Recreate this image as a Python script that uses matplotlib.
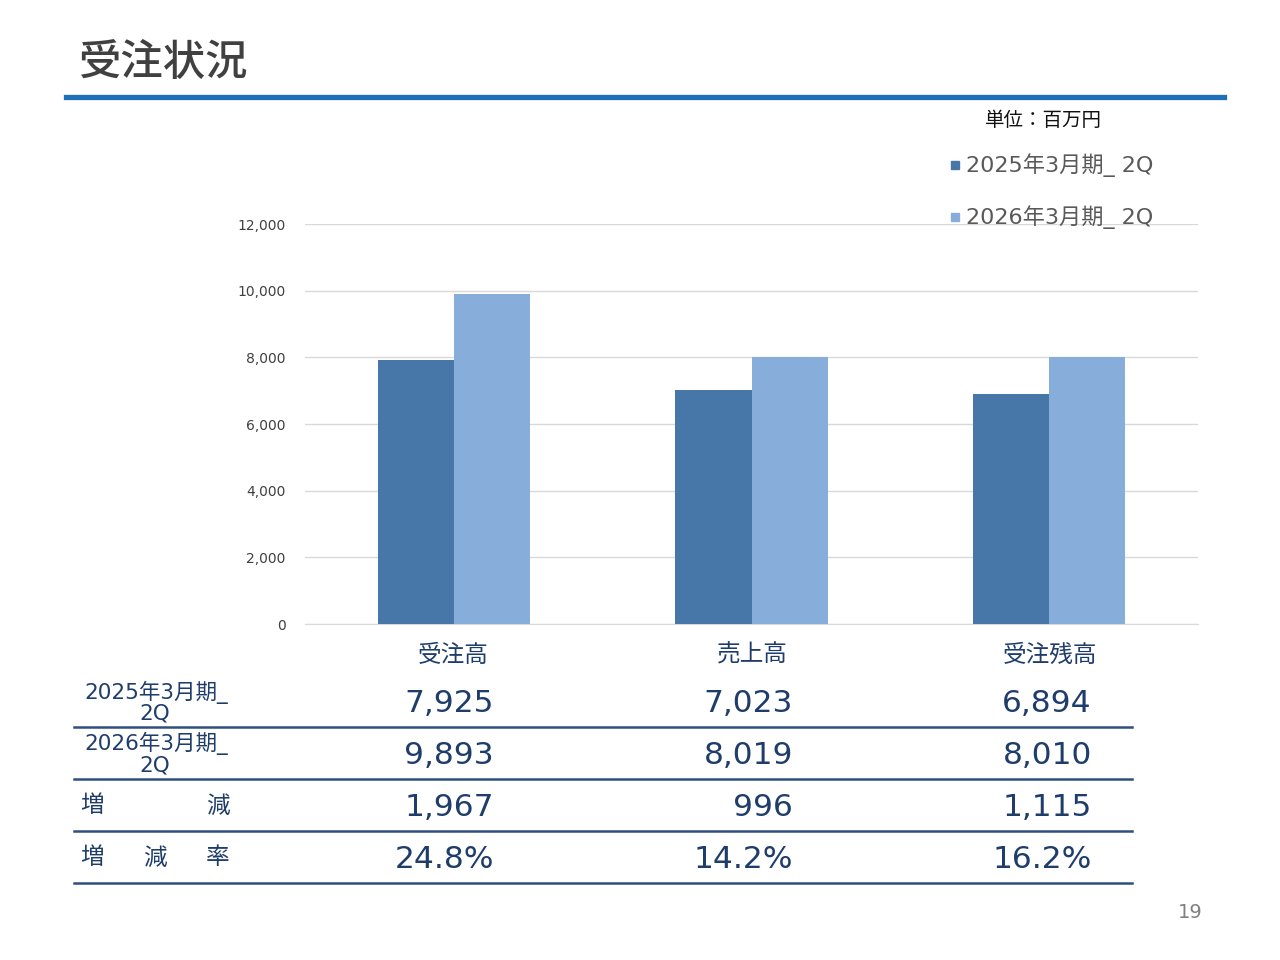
import matplotlib
matplotlib.use("Agg")
import matplotlib.pyplot as plt
from matplotlib.patches import Rectangle
from matplotlib.lines import Line2D
import numpy as np

plt.rcParams['font.family'] = ['Noto Sans CJK JP', 'DejaVu Sans']

title = "受注状況"
unit_label = "単位：百万円"
categories = ["受注高", "売上高", "受注残高"]
series_names = ["2025年3月期_ 2Q", "2026年3月期_ 2Q"]
values_2025 = [7925, 7023, 6894]
values_2026 = [9893, 8019, 8010]
diff_values = ["1,967", "996", "1,115"]
rate_values = ["24.8%", "14.2%", "16.2%"]
row_labels = ["2025年3月期_\n2Q", "2026年3月期_\n2Q"]
yticks = [0, 2000, 4000, 6000, 8000, 10000, 12000]
page_no = "19"

dark = "#4677A8"
light = "#87AEDB"
navy = "#1F3D6B"
mixed = ['DejaVu Sans', 'Noto Sans CJK JP']

W, H = 1280, 960
fig = plt.figure(figsize=(12.8, 9.6), dpi=100)
fig.patch.set_facecolor("white")

def fx(x):
    return x / W

def fy(y):
    return 1 - y / H

# Title
fig.text(fx(78), fy(62), title, fontsize=30.5, color="#404040", va="center", ha="left", fontweight="medium")
fig.add_artist(Line2D([fx(66), fx(1224)], [fy(96.5), fy(96.5)], color="#1F6FB8", lw=3.8))

# Axes
ax = fig.add_axes([fx(305), fy(624), fx(1198 - 305), (624 - 224) / H])
x = np.arange(len(categories))
bw = 0.256
ax.bar(x - bw / 2, values_2025, width=bw, color=dark, zorder=3)
ax.bar(x + bw / 2, values_2026, width=bw, color=light, zorder=3)
ax.set_xlim(-0.5, 2.5)
ax.set_ylim(0, 12000)
ax.set_yticks(yticks)
ax.set_yticklabels([f"{v:,}" for v in yticks], fontsize=10, color="#404040", family=mixed)
ax.tick_params(axis="y", length=0, pad=14)
ax.set_xticks([])
ax.grid(axis="y", color="#D9D9D9", lw=1, zorder=0)
for s in ["top", "right", "left"]:
    ax.spines[s].set_visible(False)
ax.spines["bottom"].set_color("#D9D9D9")
ax.set_facecolor("none")

# Unit and legend
fig.text(fx(985), fy(120), unit_label, fontsize=14, color="#111111", va="center", ha="left")
for i, (name, col) in enumerate(zip(series_names, [dark, light])):
    yy = 165 + 52 * i
    fig.add_artist(Rectangle((fx(951), fy(yy + 4)), fx(8), 8 / H, color=col))
    fig.text(fx(966), fy(yy), name, fontsize=16, color="#595959", va="center", ha="left", family=mixed)

# Table
col_centers = [453, 752, 1050]
col_right = [494, 793, 1092]
for c, cat in zip(col_centers, categories):
    fig.text(fx(c), fy(655), cat, fontsize=17, color=navy, va="center", ha="center")

row_y = [704, 755, 807, 859]
rows = [[f"{v:,}" for v in values_2025], [f"{v:,}" for v in values_2026], diff_values, rate_values]
for ry, vals in zip(row_y, rows):
    for cr, v in zip(col_right, vals):
        fig.text(fx(cr), fy(ry), v, fontsize=22.5, color=navy, va="center", ha="right", family=['DejaVu Sans'])

for ry, lab in zip([703, 754], row_labels):
    first, second = lab.split("\n")
    fig.text(fx(84), fy(ry - 11), first, fontsize=15.5, color=navy, va="center", ha="left", family=mixed)
    fig.text(fx(155), fy(ry + 11), second, fontsize=15.5, color=navy, va="center", ha="center", family=mixed)

fig.text(fx(80), fy(806), "増", fontsize=17, color=navy, va="center", ha="left")
fig.text(fx(206), fy(806), "減", fontsize=17, color=navy, va="center", ha="left")
fig.text(fx(80), fy(858), "増", fontsize=17, color=navy, va="center", ha="left")
fig.text(fx(143), fy(858), "減", fontsize=17, color=navy, va="center", ha="left")
fig.text(fx(206), fy(858), "率", fontsize=17, color=navy, va="center", ha="left")

for ly in [726.5, 778.5, 830.5, 882.5]:
    fig.add_artist(Line2D([fx(74), fx(1132)], [fy(ly), fy(ly)], color="#2F4F7F", lw=1.8))

fig.text(fx(1190), fy(913), page_no, fontsize=14, color="#808080", va="center", ha="center", family=mixed)

fig.savefig("out.png", dpi=100)
